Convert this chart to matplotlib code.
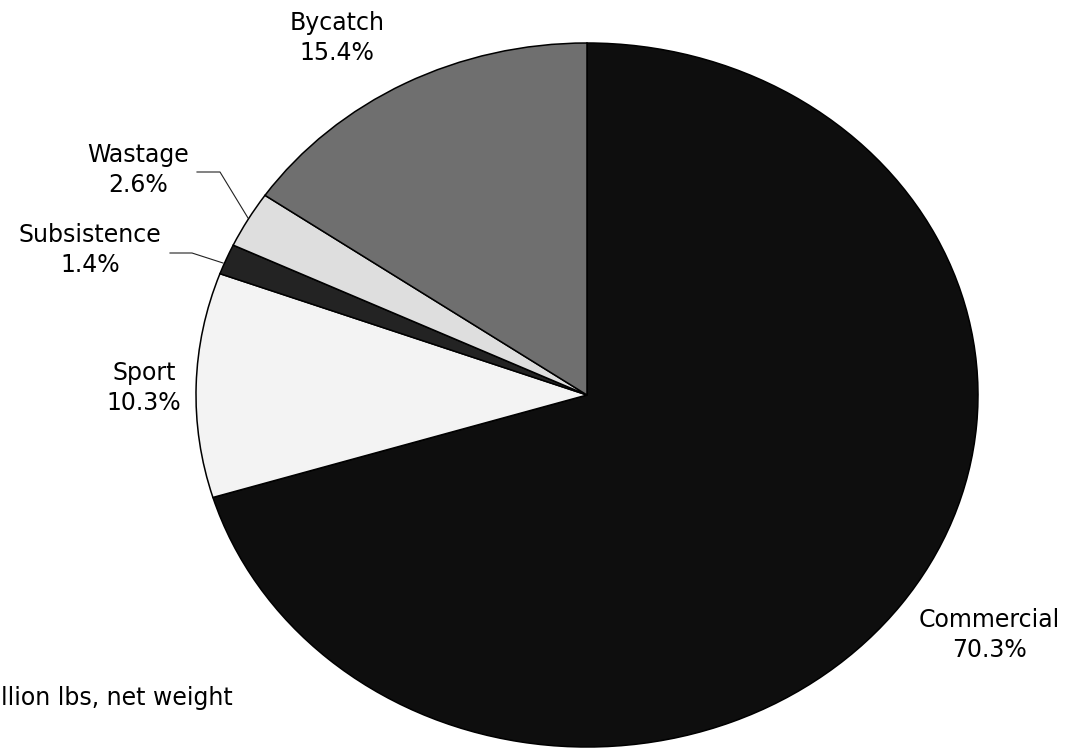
import numpy as np
import matplotlib.pyplot as plt

plt.rcParams['font.family'] = ['DejaVu Sans']

# ------------------ DATOS ------------------
categorias = ["Commercial", "Sport", "Subsistence", "Wastage", "Bycatch"]
porcentajes = [70.3, 10.3, 1.4, 2.6, 15.4]
colores = ["#0e0e0e", "#f3f3f3", "#232323", "#dedede", "#6f6f6f"]
nota = "llion lbs, net weight"   # lo que se ve, el resto queda fuera del cuadro

# ------------------ GEOMETRÍA (píxeles) ------------------
W, H = 1069, 749
cx, cy = 587, 395      # centro de la torta (desde arriba)
rx, ry = 391, 352      # torta algo achatada


def px(x, y):
    # pixel (desde arriba-izquierda) -> coordenadas de datos
    return (x - cx) / rx, (cy - y) / ry


fig = plt.figure(figsize=(W / 100, H / 100), dpi=100)
ax = fig.add_axes([0, 0, 1, 1])

ax.pie(porcentajes, colors=colores, startangle=90, counterclock=False,
       radius=1, center=(0, 0),
       wedgeprops=dict(edgecolor='black', linewidth=1.1))

ax.set_aspect('auto')
ax.set_xlim(-cx / rx, (W - cx) / rx)
ax.set_ylim(-(H - cy) / ry, cy / ry)
ax.axis('off')

# ------------------ ETIQUETAS ------------------
pos_etiquetas = {
    "Commercial": (989, 635),
    "Sport": (144, 388),
    "Subsistence": (90, 250),
    "Wastage": (138, 170),
    "Bycatch": (337, 38),
}
for cat, p in zip(categorias, porcentajes):
    x, y = px(*pos_etiquetas[cat])
    ax.text(x, y, f"{cat}\n{p:.1f}%", ha='center', va='center',
            fontsize=17, linespacing=1.35, color='black')

# líneas guía
guias = [
    [(197, 172), (220, 172), (248, 218)],
    [(170, 253), (192, 253), (223, 263)],
]
for g in guias:
    pts = np.array([px(*p) for p in g])
    ax.plot(pts[:, 0], pts[:, 1], color='#222222', linewidth=0.8)

# nota al pie
fig.text(1 / W, 1 - 698 / H, nota, ha='left', va='center', fontsize=17)

fig.savefig("out.png", dpi=100)
